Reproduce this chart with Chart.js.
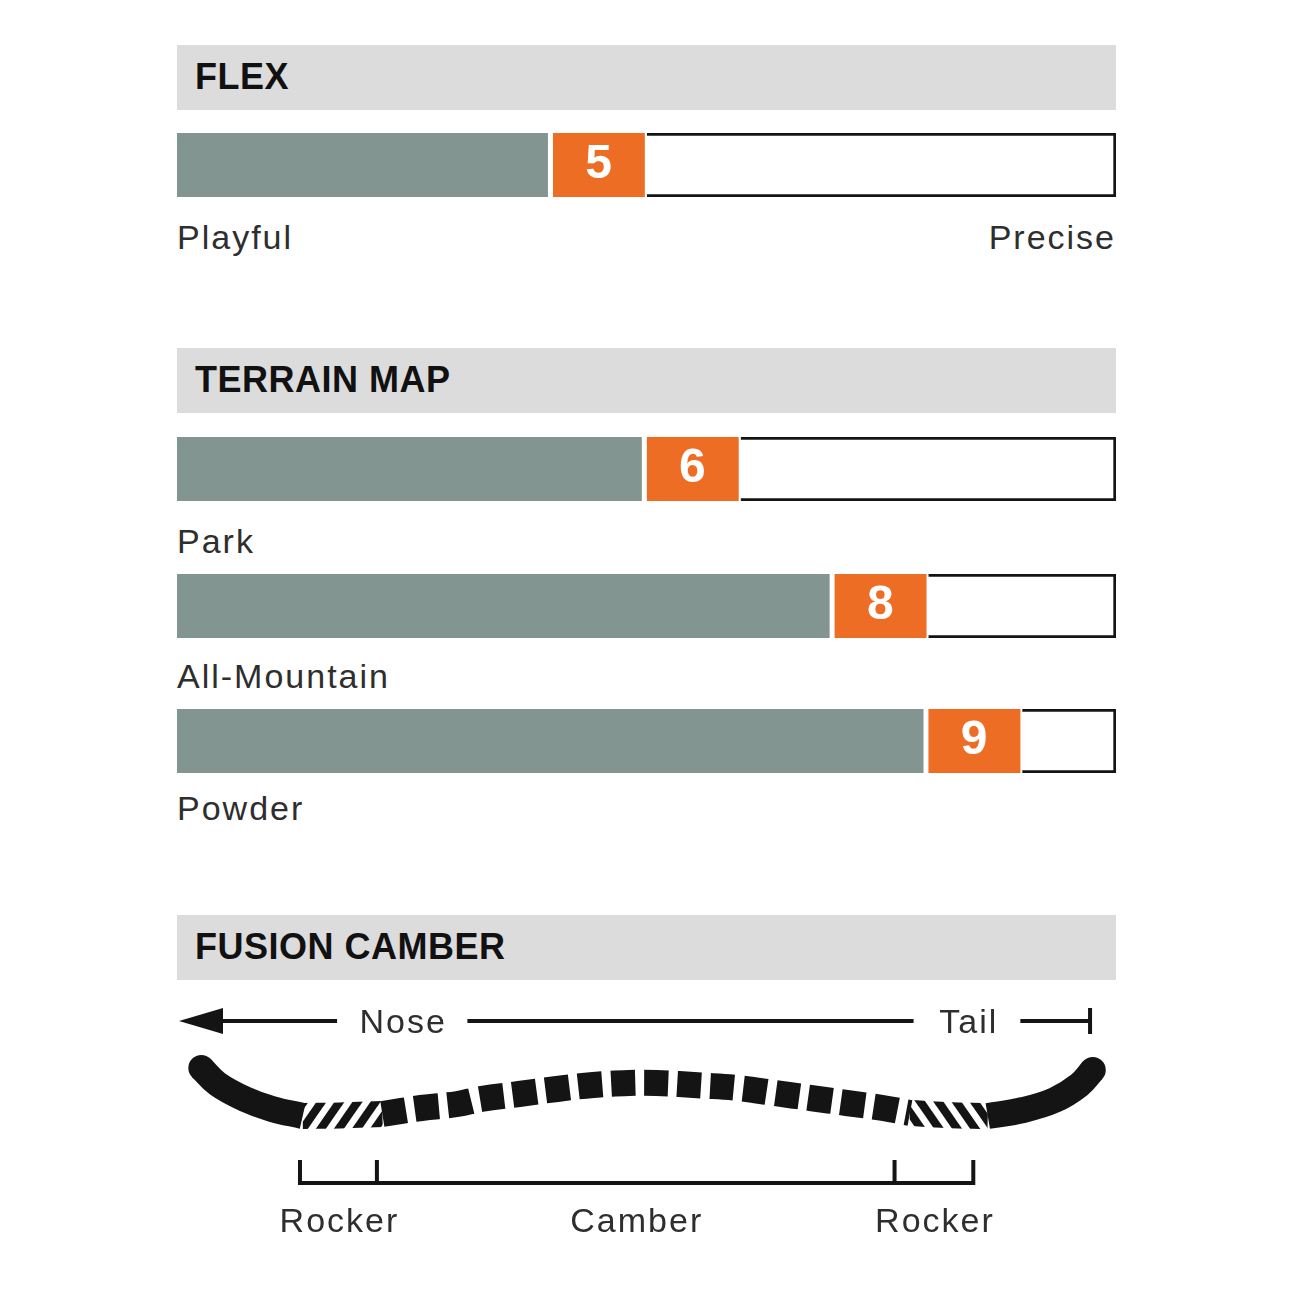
<!DOCTYPE html>
<html>
<head>
<meta charset="utf-8">
<script src="https://cdn.jsdelivr.net/npm/chart.js@4.4.1/dist/chart.umd.min.js"></script>
<style>
  body { margin: 0; background: #fff; width: 1290px; height: 1290px; position: relative; overflow: hidden;
         font-family: "Liberation Sans", Arial, sans-serif; }
  .head { position: absolute; left: 177px; width: 939px; height: 65px; background: #dcdcdd; }
  .head span { position: absolute; left: 18px; top: 14px; font-weight: bold; font-size: 36px; line-height: 36px;
               color: #111; letter-spacing: 0.5px; }
  .bar { position: absolute; left: 177px; }
  .lbl { position: absolute; font-size: 34px; line-height: 34px; color: #2e2e2e; letter-spacing: 2px; white-space: nowrap; }
  #camber-chart { position: absolute; left: 0; top: 987px; }
</style>
</head>
<body>

<div class="head" style="top:45px"><span id="flex-title"></span></div>
<canvas class="bar" id="flex-chart" width="939" height="64" style="top:133px"></canvas>
<div class="lbl" id="flex-low" style="left:177px; top:220px"></div>
<div class="lbl" id="flex-high" style="right:174px; top:220px"></div>

<div class="head" style="top:348px"><span id="terrain-title"></span></div>
<canvas class="bar" id="terrain-0" width="939" height="64" style="top:437px"></canvas>
<div class="lbl" id="terrain-lbl-0" style="left:177px; top:524px"></div>
<canvas class="bar" id="terrain-1" width="939" height="64" style="top:574px"></canvas>
<div class="lbl" id="terrain-lbl-1" style="left:177px; top:659px"></div>
<canvas class="bar" id="terrain-2" width="939" height="64" style="top:709px"></canvas>
<div class="lbl" id="terrain-lbl-2" style="left:177px; top:791px"></div>

<div class="head" style="top:915px"><span id="camber-title"></span></div>
<canvas id="camber-chart" width="1290" height="260"></canvas>

<script>
// ---- data ----
const titles = ["FLEX", "TERRAIN MAP", "FUSION CAMBER"];
const scaleMax = 10;
const flexValue = 5;
const flexEnds = ["Playful", "Precise"];
const terrainNames = ["Park", "All-Mountain", "Powder"];
const terrainValues = [6, 8, 9];

// board profile, x = % of board length (nose -> tail), y = height above base
const noseX = [0.7, 2.5, 5.5, 8.5, 11.9];
const noseH = [49, 33, 18, 8, 1];
const noseRockerX = [11.9, 16.0, 20.7];
const noseRockerH = [1, 1.5, 3];
const camberX = [20.7, 25, 29, 31.6, 35.8, 40, 44, 48, 51, 56, 60, 64, 68, 72, 76, 79];
const camberH = [3, 9, 13, 18, 23, 28, 32, 34, 34, 31.5, 29, 24, 19, 14, 9, 4];
const tailRockerX = [79, 83, 87.6];
const tailRockerH = [4, 2, 1];
const tailX = [87.6, 91.5, 95, 97.7, 99.2];
const tailH = [1, 7, 17, 32, 47];

// guide row (Nose <--- ---> Tail) and zone brackets
const directionLabels = ["Nose", "Tail"];
const directionLabelX = [22.9, 85.4];
const guideH = 96;
const guideSegments = [[3.0, 15.7], [30.1, 79.4], [91.2, 98.9]];
const arrowTipX = 0.66;
const zoneNames = ["Rocker", "Camber", "Rocker"];
const zoneEdges = [11.6, 20.1, 77.3, 86.0];
const bracketTopH = -43;
const bracketBaseH = -66;
const zoneLabelH = -115;

const GRAY = "#829590";
const ORANGE = "#ee6d24";
const INK = "#141414";
const FONT = '"Liberation Sans", Arial, sans-serif';

document.getElementById("flex-title").textContent = titles[0];
document.getElementById("terrain-title").textContent = titles[1];
document.getElementById("camber-title").textContent = titles[2];
document.getElementById("flex-low").textContent = flexEnds[0];
document.getElementById("flex-high").textContent = flexEnds[1];
terrainNames.forEach((n, i) => { document.getElementById("terrain-lbl-" + i).textContent = n; });

function createRating(canvasId, value) {
    const valueLabel = {
        id: "valueLabel",
        afterDatasetsDraw(chart) {
            const bar = chart.getDatasetMeta(1).data[0];
            const ctx = chart.ctx;
            ctx.save();
            ctx.fillStyle = "#fff";
            ctx.font = "bold 48px " + FONT;
            ctx.textAlign = "center";
            ctx.textBaseline = "alphabetic";
            ctx.fillText(String(value), (bar.x + bar.base) / 2 - 1, bar.y + 13);
            ctx.restore();
        }
    };
    return new Chart(document.getElementById(canvasId).getContext("2d"), {
        type: "bar",
        data: {
            labels: [""],
            datasets: [
                { data: [value - 1], backgroundColor: GRAY, borderColor: "#fff",
                  borderWidth: { top: 0, right: 5, bottom: 0, left: 0 }, borderSkipped: false },
                { data: [1], backgroundColor: ORANGE, borderColor: "#fff",
                  borderWidth: { top: 0, right: 2, bottom: 0, left: 0 }, borderSkipped: false },
                { data: [scaleMax - value], backgroundColor: "#fff", borderColor: INK,
                  borderWidth: { top: 3, right: 3, bottom: 3, left: 0 }, borderSkipped: false }
            ]
        },
        options: {
            indexAxis: "y",
            responsive: false,
            animation: false,
            layout: { padding: 0, autoPadding: false },
            datasets: { bar: { barPercentage: 1, categoryPercentage: 1 } },
            scales: {
                x: { stacked: true, min: 0, max: scaleMax, display: false },
                y: { stacked: true, display: false }
            },
            plugins: { legend: { display: false }, tooltip: { enabled: false } }
        },
        plugins: [valueLabel]
    });
}

createRating("flex-chart", flexValue);
terrainValues.forEach((v, i) => createRating("terrain-" + i, v));

// ---- camber profile ----
function stripes(mirror) {
    const w = 18, h = 26, b = 10;
    const c = document.createElement("canvas");
    c.width = w; c.height = h;
    const g = c.getContext("2d");
    g.fillStyle = INK;
    for (let k = -1; k <= 1; k++) {
        g.beginPath();
        g.moveTo(k * w, h);
        g.lineTo(k * w + b, h);
        g.lineTo(k * w + w + b, 0);
        g.lineTo(k * w + w, 0);
        g.closePath();
        g.fill();
    }
    if (!mirror) return c;
    const m = document.createElement("canvas");
    m.width = w; m.height = h;
    const mg = m.getContext("2d");
    mg.translate(w, 0);
    mg.scale(-1, 1);
    mg.drawImage(c, 0, 0);
    return m;
}

function arrowHead() {
    const c = document.createElement("canvas");
    c.width = 44; c.height = 28;
    const g = c.getContext("2d");
    g.fillStyle = INK;
    g.beginPath();
    g.moveTo(0, 14);
    g.lineTo(44, 1);
    g.lineTo(44, 27);
    g.closePath();
    g.fill();
    return c;
}

const camberCtx = document.getElementById("camber-chart").getContext("2d");
const hatchNose = camberCtx.createPattern(stripes(false), "repeat");
const hatchTail = camberCtx.createPattern(stripes(true), "repeat");

const pts = (xs, ys) => xs.map((x, i) => ({ x, y: ys[i] }));

function boardPart(xs, ys, color, extra) {
    return Object.assign({
        data: pts(xs, ys),
        showLine: true,
        borderColor: color,
        borderWidth: 26,
        borderCapStyle: "butt",
        tension: 0.4,
        pointRadius: 0,
        clip: false
    }, extra || {});
}

function guideLine(xs, ys, extra) {
    return Object.assign({
        data: pts(xs, ys),
        showLine: true,
        borderColor: INK,
        borderWidth: 4,
        borderCapStyle: "butt",
        borderJoinStyle: "miter",
        tension: 0,
        pointRadius: 0,
        clip: false
    }, extra || {});
}

const tipRadius = (n, at) => Array.from({ length: n }, (_, i) => (i === at ? 13 : 0));

const camberDatasets = [
    boardPart(noseX, noseH, INK, { pointRadius: tipRadius(noseX.length, 0), pointBackgroundColor: INK, pointBorderWidth: 0 }),
    boardPart(noseRockerX, noseRockerH, hatchNose),
    boardPart(camberX, camberH, INK, { borderDash: [24, 9] }),
    boardPart(tailRockerX, tailRockerH, hatchTail),
    boardPart(tailX, tailH, INK, { pointRadius: tipRadius(tailX.length, tailX.length - 1), pointBackgroundColor: INK, pointBorderWidth: 0 })
];
guideSegments.forEach(seg => camberDatasets.push(guideLine(seg, [guideH, guideH])));
// arrow head at the nose end, stop bar at the tail end
camberDatasets.push({
    data: [{ x: arrowTipX, y: guideH }], pointStyle: arrowHead(), pointRadius: 14, clip: false
});
camberDatasets.push({
    data: [{ x: guideSegments[2][1], y: guideH }], pointStyle: "line", rotation: 90, pointRadius: 13,
    borderColor: INK, pointBorderWidth: 4, borderWidth: 4, clip: false
});
// zone brackets
camberDatasets.push(guideLine(
    [zoneEdges[0], zoneEdges[0], zoneEdges[3], zoneEdges[3]],
    [bracketTopH, bracketBaseH, bracketBaseH, bracketTopH]));
camberDatasets.push(guideLine([zoneEdges[1], zoneEdges[1]], [bracketTopH, bracketBaseH]));
camberDatasets.push(guideLine([zoneEdges[2], zoneEdges[2]], [bracketTopH, bracketBaseH]));

const camberText = {
    id: "camberText",
    afterDatasetsDraw(chart) {
        const ctx = chart.ctx;
        const xs = chart.scales.x, ys = chart.scales.y;
        ctx.save();
        ctx.fillStyle = "#2e2e2e";
        ctx.font = "34px " + FONT;
        ctx.letterSpacing = "2px";
        ctx.textAlign = "center";
        ctx.textBaseline = "alphabetic";
        directionLabels.forEach((t, i) => {
            ctx.fillText(t, xs.getPixelForValue(directionLabelX[i]) + 1, ys.getPixelForValue(guideH) + 12);
        });
        zoneNames.forEach((t, i) => {
            const mid = (zoneEdges[i] + zoneEdges[i + 1]) / 2;
            ctx.fillText(t, xs.getPixelForValue(mid) + 1, ys.getPixelForValue(zoneLabelH));
        });
        ctx.restore();
    }
};

new Chart(camberCtx, {
    type: "scatter",
    data: { datasets: camberDatasets },
    options: {
        responsive: false,
        animation: false,
        layout: { padding: { left: 195, right: 190, top: 0, bottom: 0 }, autoPadding: false },
        scales: {
            x: { type: "linear", min: 0, max: 100, display: false },
            y: { type: "linear", min: -130, max: 130, display: false }
        },
        plugins: { legend: { display: false }, tooltip: { enabled: false } }
    },
    plugins: [camberText]
});
</script>
</body>
</html>
